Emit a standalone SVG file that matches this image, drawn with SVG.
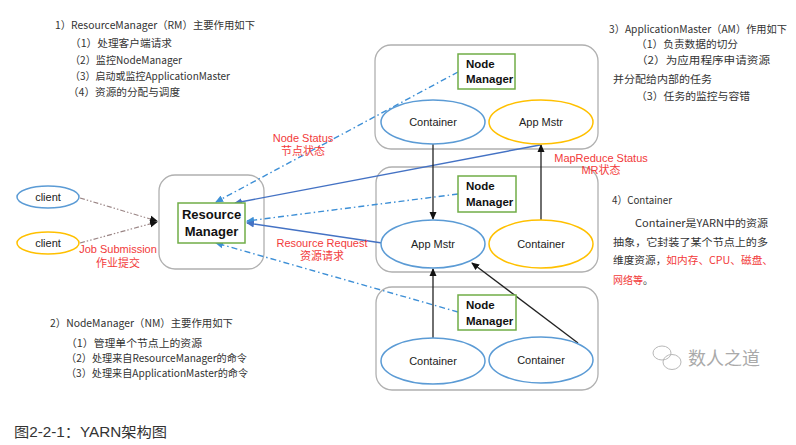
<svg xmlns="http://www.w3.org/2000/svg" width="796" height="445" viewBox="0 0 796 445">
<style>
.bg{fill:#ffffff}
.grp{fill:#ffffff;stroke:#b0b0b0;stroke-width:1.3}
.nm{fill:#ffffff;stroke:#70ad47;stroke-width:1.5}
.eb{fill:#ffffff;stroke:#5b9bd5;stroke-width:1.5}
.ey{fill:#ffffff;stroke:#ffc000;stroke-width:1.5}
.lbl{font-family:"Liberation Sans",Arial,sans-serif;font-size:11px;fill:#222;text-anchor:middle}
.bold{font-family:"Liberation Sans",Arial,sans-serif;font-size:11.5px;font-weight:bold;fill:#111}
.rmt{font-family:"Liberation Sans",Arial,sans-serif;font-size:13px;font-weight:bold;fill:#111;text-anchor:middle}
.txt{font-family:"Noto Sans CJK SC","Liberation Sans",sans-serif;font-size:10.5px;fill:#333}
.red{font-family:"Liberation Sans","Noto Sans CJK SC",sans-serif;font-size:11px;fill:#f23a3a;text-anchor:middle}
.redi{fill:#f23a3a}
.dd{fill:none;stroke:#3d8fd6;stroke-width:1.4;stroke-dasharray:6 3 1.5 3}
.sb{fill:none;stroke:#4472c4;stroke-width:1.4}
.bk{fill:none;stroke:#222;stroke-width:1.3}
.cl{fill:none;stroke:#9a8585;stroke-width:1.2;stroke-dasharray:5 2 1.5 2 1.5 2}
</style>
<defs>
<marker id="ab" markerWidth="8" markerHeight="8" refX="7" refY="4" orient="auto" markerUnits="userSpaceOnUse"><path d="M0,0.5 L8,4 L0,7.5 Z" fill="#3d8fd6"/></marker>
<marker id="as" markerWidth="8" markerHeight="8" refX="7" refY="4" orient="auto" markerUnits="userSpaceOnUse"><path d="M0,0.5 L8,4 L0,7.5 Z" fill="#4472c4"/></marker>
<marker id="ak" markerWidth="8" markerHeight="8" refX="7" refY="4" orient="auto" markerUnits="userSpaceOnUse"><path d="M0,0.5 L8,4 L0,7.5 Z" fill="#111"/></marker>
</defs>
<rect class="bg" x="0" y="0" width="796" height="445"/>

<g id="group-top"><rect class="grp" x="375" y="45" width="223" height="104" rx="16"/></g>
<g id="group-mid"><rect class="grp" x="376" y="167" width="222" height="105" rx="16"/></g>
<g id="group-bot"><rect class="grp" x="376" y="287" width="222" height="103" rx="16"/></g>
<g id="group-rm"><rect class="grp" x="159" y="175" width="105" height="94" rx="16"/></g>

<g id="connectors">
<path class="cl" d="M80,198 L157,221" marker-end="url(#ak)"/>
<path class="cl" d="M80,243 L157,222" marker-end="url(#ak)"/>
<path class="dd" d="M458,72 L216,202" marker-end="url(#ab)"/>
<path class="sb" d="M540,145 L235,203" marker-end="url(#as)"/>
<path class="dd" d="M458,194 L247,221" marker-end="url(#ab)"/>
<path class="sb" d="M382,243 L247,223" marker-end="url(#as)"/>
<path class="dd" d="M458,312 L216,243" marker-end="url(#ab)"/>
<path class="bk" d="M433,144 L433,219" marker-end="url(#ak)"/>
<path class="bk" d="M541,220 L541,145" marker-end="url(#ak)"/>
<path class="bk" d="M433,338 L433,269" marker-end="url(#ak)"/>
<path class="bk" d="M578,343 L472,263" marker-end="url(#ak)"/>
</g>

<g id="client1"><ellipse class="eb" cx="48" cy="197" rx="31" ry="11"/><text class="lbl" x="48" y="201">client</text></g>
<g id="client2"><ellipse class="ey" cx="48" cy="243" rx="31" ry="11"/><text class="lbl" x="48" y="247">client</text></g>

<g id="resource-manager"><rect class="nm" x="178" y="203" width="67" height="40"/><text class="rmt" x="211.5" y="219">Resource</text><text class="rmt" x="211.5" y="236">Manager</text></g>

<g id="nm-top"><rect class="nm" x="458" y="54" width="57" height="35"/><text class="bold" x="466" y="68">Node</text><text class="bold" x="466" y="83">Manager</text></g>
<g id="container-top"><ellipse class="eb" cx="433" cy="122" rx="52" ry="22"/><text class="lbl" x="433" y="126">Container</text></g>
<g id="am-top"><ellipse class="ey" cx="541" cy="122" rx="52" ry="22"/><text class="lbl" x="541" y="126">App Mstr</text></g>

<g id="nm-mid"><rect class="nm" x="458" y="176" width="58" height="36"/><text class="bold" x="466" y="190">Node</text><text class="bold" x="466" y="206">Manager</text></g>
<g id="am-mid"><ellipse class="eb" cx="433" cy="244" rx="52" ry="24"/><text class="lbl" x="433" y="248">App Mstr</text></g>
<g id="container-mid"><ellipse class="ey" cx="541" cy="244" rx="52" ry="24"/><text class="lbl" x="541" y="248">Container</text></g>

<g id="nm-bot"><rect class="nm" x="458" y="295" width="58" height="35"/><text class="bold" x="466" y="309">Node</text><text class="bold" x="466" y="325">Manager</text></g>
<g id="container-bot1"><ellipse class="eb" cx="433" cy="361" rx="52" ry="23"/><text class="lbl" x="433" y="365">Container</text></g>
<g id="container-bot2"><ellipse class="eb" cx="541" cy="360" rx="52" ry="23"/><text class="lbl" x="541" y="364">Container</text></g>

<g id="labels">
<text class="red" x="118" y="253">Job Submission</text>
<text class="red" x="118" y="267">作业提交</text>
<text class="red" x="303" y="142">Node Status</text>
<text class="red" x="303" y="155">节点状态</text>
<text class="red" x="322" y="247">Resource Request</text>
<text class="red" x="322" y="260">资源请求</text>
<text class="red" x="601" y="162">MapReduce Status</text>
<text class="red" x="601" y="174">MR状态</text>
</g>

<g id="notes">
<text class="txt" x="55" y="29" textLength="200" lengthAdjust="spacingAndGlyphs">1）ResourceManager（RM）主要作用如下</text>
<text class="txt" x="70" y="47" textLength="102" lengthAdjust="spacingAndGlyphs">（1）处理客户端请求</text>
<text class="txt" x="70" y="64" textLength="112" lengthAdjust="spacingAndGlyphs">（2）监控NodeManager</text>
<text class="txt" x="70" y="80" textLength="160" lengthAdjust="spacingAndGlyphs">（3）启动或监控ApplicationMaster</text>
<text class="txt" x="68" y="96" textLength="112" lengthAdjust="spacingAndGlyphs">（4）资源的分配与调度</text>

<text class="txt" x="609" y="33" textLength="178" lengthAdjust="spacingAndGlyphs">3）ApplicationMaster（AM）作用如下</text>
<text class="txt" x="636" y="48" textLength="102" lengthAdjust="spacingAndGlyphs">（1）负责数据的切分</text>
<text class="txt" x="636" y="64" textLength="134" lengthAdjust="spacingAndGlyphs">（2）为应用程序申请资源</text>
<text class="txt" x="613" y="83" textLength="99" lengthAdjust="spacingAndGlyphs">并分配给内部的任务</text>
<text class="txt" x="636" y="100" textLength="114" lengthAdjust="spacingAndGlyphs">（3）任务的监控与容错</text>

<text class="txt" x="612" y="204" textLength="60" lengthAdjust="spacingAndGlyphs">4）Container</text>
<text class="txt" x="635" y="227" textLength="133" lengthAdjust="spacingAndGlyphs">Container是YARN中的资源</text>
<text class="txt" x="613" y="246" textLength="155" lengthAdjust="spacingAndGlyphs">抽象，它封装了某个节点上的多</text>
<text class="txt" x="613" y="264" textLength="160" lengthAdjust="spacingAndGlyphs">维度资源，<tspan class="redi">如内存、CPU、磁盘、</tspan></text>
<text class="txt" x="613" y="284" textLength="40" lengthAdjust="spacingAndGlyphs"><tspan class="redi">网络等</tspan>。</text>

<text class="txt" x="50" y="327" textLength="183" lengthAdjust="spacingAndGlyphs">2）NodeManager（NM）主要作用如下</text>
<text class="txt" x="66" y="347" textLength="136" lengthAdjust="spacingAndGlyphs">（1）管理单个节点上的资源</text>
<text class="txt" x="66" y="362" textLength="181" lengthAdjust="spacingAndGlyphs">（2）处理来自ResourceManager的命令</text>
<text class="txt" x="66" y="377" textLength="182" lengthAdjust="spacingAndGlyphs">（3）处理来自ApplicationMaster的命令</text>

<text x="14" y="437" textLength="153" lengthAdjust="spacingAndGlyphs" style="font-family:'Liberation Sans','Noto Sans CJK SC',sans-serif;font-size:14px;fill:#333">图2-2-1：YARN架构图</text>
</g>

<g id="watermark" fill="none" stroke="#b8b8b8" stroke-width="1">
<ellipse cx="662" cy="353" rx="9" ry="7"/>
<ellipse cx="672" cy="362" rx="9" ry="7.5"/>
<text x="688" y="365" stroke="none" style="font-family:'Noto Sans CJK SC',sans-serif;font-size:18px;fill:#aaaaaa">数人之道</text>
</g>
</svg>
